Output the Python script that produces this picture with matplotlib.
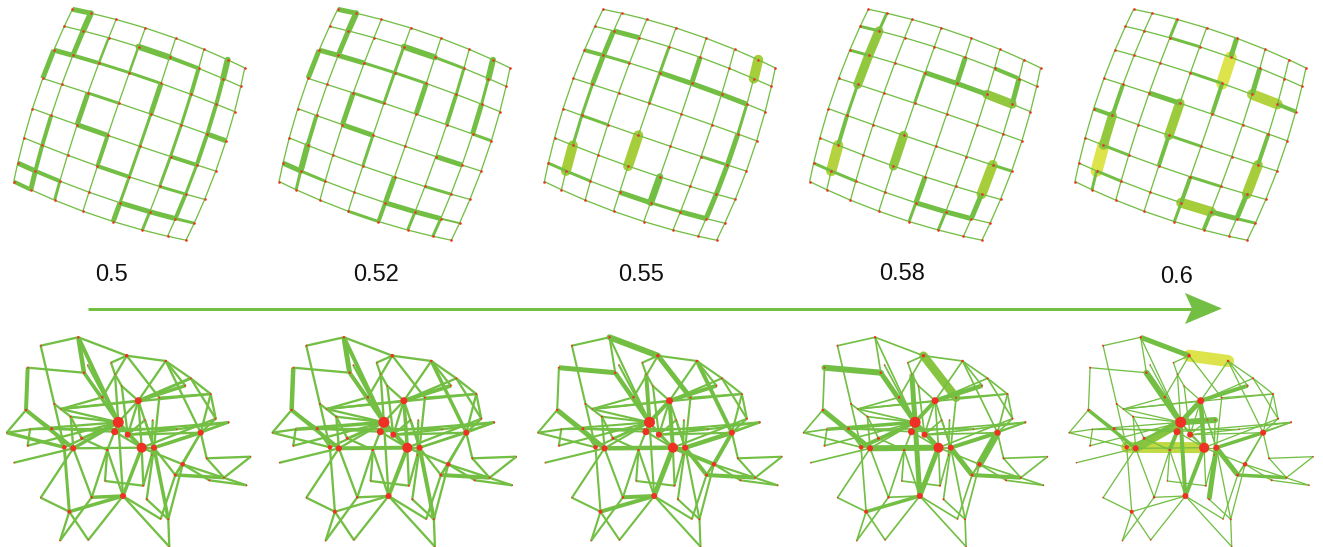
import numpy as np
import matplotlib.pyplot as plt
from matplotlib.patches import Polygon
from matplotlib.colors import to_rgb

# weight threshold used for each column
thresholds = ["0.5", "0.52", "0.55", "0.58", "0.6"]

# ---------------------------------------------------------------------------
# 8 x 8 lattice: edges heavier than the base weight, per threshold
# (orientation, column, row, weight) -- 'h' joins (c,r)-(c+1,r), 'v' joins (c,r)-(c,r+1)
grid_base_w = 1.3
grid_heavy = [
    [("h", 0, 0, 5), ("v", 1, 0, 6), ("v", 1, 1, 5), ("h", 0, 2, 5), ("h", 1, 2, 4), ("v", 0, 2, 5),
     ("h", 3, 1, 6), ("h", 4, 1, 4), ("v", 6, 0, 6), ("h", 2, 2, 3), ("h", 3, 2, 3), ("v", 3, 1, 2.5),
     ("v", 2, 1, 2.5), ("v", 2, 3, 5), ("h", 2, 3, 3), ("v", 4, 2, 5), ("v", 5, 1, 4), ("v", 5, 2, 3),
     ("v", 6, 2, 4), ("v", 6, 1, 4), ("h", 6, 3, 5), ("v", 1, 4, 4), ("v", 1, 5, 4), ("v", 1, 6, 5),
     ("h", 0, 6, 5), ("h", 1, 6, 4), ("h", 0, 7, 4), ("h", 2, 4, 5), ("v", 3, 4, 4), ("h", 3, 5, 4),
     ("v", 4, 4, 3), ("h", 5, 4, 4), ("h", 5, 5, 3), ("v", 6, 5, 4), ("h", 4, 6, 5), ("h", 5, 6, 5),
     ("h", 6, 6, 3), ("v", 4, 6, 5), ("v", 5, 6, 3), ("v", 2, 6, 3), ("v", 6, 4, 3), ("v", 4, 5, 3),
     ("v", 5, 4, 3), ("v", 5, 3, 3), ("v", 4, 3, 3), ("v", 6, 3, 4)],
    [("h", 0, 0, 5), ("v", 1, 0, 6), ("v", 1, 1, 5), ("h", 0, 2, 5), ("h", 1, 2, 5), ("v", 0, 2, 5),
     ("h", 3, 1, 6), ("h", 4, 1, 3), ("v", 6, 0, 6), ("v", 3, 2, 3), ("v", 4, 2, 5), ("v", 5, 2, 4),
     ("v", 6, 2, 5), ("v", 2, 3, 5), ("h", 2, 4, 5), ("v", 1, 4, 4), ("v", 1, 5, 6), ("h", 0, 6, 5),
     ("h", 1, 6, 3), ("v", 1, 6, 3), ("h", 5, 4, 5), ("v", 4, 5, 5), ("h", 4, 6, 5), ("h", 5, 6, 5),
     ("v", 5, 6, 3), ("v", 6, 6, 3), ("h", 3, 7, 3), ("v", 4, 6, 4), ("h", 6, 6, 2), ("h", 2, 2, 3),
     ("h", 3, 2, 3), ("h", 2, 3, 3), ("v", 6, 1, 3), ("v", 5, 1, 3), ("v", 3, 1, 3), ("h", 6, 3, 3),
     ("v", 3, 4, 3), ("h", 5, 5, 3)],
    [("h", 1, 1, 5), ("v", 1, 1, 5), ("v", 1, 2, 5), ("v", 1, 3, 3), ("v", 1, 4, 3), ("v", 1, 5, 10),
     ("h", 0, 2, 4), ("h", 1, 2, 3), ("v", 3, 1, 3), ("h", 3, 2, 5), ("h", 4, 2, 5), ("h", 5, 2, 5),
     ("v", 4, 1, 5), ("v", 6, 0, 10), ("v", 6, 2, 3), ("v", 6, 3, 5), ("v", 6, 4, 5), ("v", 6, 5, 5),
     ("v", 3, 2, 3), ("h", 1, 4, 3), ("v", 3, 4, 10), ("v", 4, 5, 7), ("h", 3, 6, 5), ("h", 4, 6, 3),
     ("h", 5, 6, 5), ("h", 0, 6, 3), ("h", 1, 6, 3), ("h", 5, 4, 3)],
    [("h", 0, 1, 3), ("v", 1, 0, 3), ("v", 1, 1, 9), ("v", 1, 2, 9), ("h", 0, 2, 3), ("v", 1, 3, 3),
     ("v", 1, 4, 4), ("v", 1, 5, 10.5), ("h", 1, 6, 3), ("v", 4, 1, 5), ("h", 3, 2, 5), ("h", 4, 2, 5),
     ("h", 5, 2, 9), ("h", 5, 1, 4), ("v", 6, 1, 5), ("v", 3, 2, 3), ("v", 3, 4, 9), ("v", 6, 4, 10),
     ("v", 6, 5, 5), ("v", 4, 5, 5), ("h", 4, 6, 5), ("h", 5, 6, 5), ("v", 4, 6, 3), ("h", 0, 6, 3),
     ("v", 5, 6, 3), ("h", 6, 4, 3)],
    [("v", 2, 0, 3), ("h", 2, 1, 3), ("v", 4, 0, 5), ("v", 4, 1, 12), ("v", 4, 2, 4), ("h", 3, 2, 3),
     ("v", 5, 1, 5), ("h", 5, 2, 10.5), ("h", 6, 2, 4), ("v", 1, 3, 4), ("v", 1, 4, 9), ("v", 1, 5, 12),
     ("v", 1, 6, 3), ("h", 0, 4, 4), ("h", 2, 3, 5), ("v", 3, 3, 9.5), ("v", 3, 4, 4), ("h", 3, 4, 3),
     ("h", 1, 5, 3), ("h", 1, 6, 3), ("v", 6, 3, 4), ("v", 6, 4, 10), ("v", 6, 5, 5), ("h", 4, 6, 10),
     ("h", 5, 6, 5), ("h", 6, 6, 3), ("v", 4, 5, 4), ("v", 4, 6, 3), ("v", 5, 6, 4), ("h", 4, 5, 3)],
]

# ---------------------------------------------------------------------------
# network layout (same node placement in every column)
net_x = [78.3, 40.7, 126.7, 165.7, 27.7, 84.0, 87.7, 111.0, 115.0, 190.7,
         185.3, 121.7, 138.3, 159.3, 210.7, 102.3, 54.3, 26.0, 61.0, 70.7,
         118.3, 114.7, 127.7, 145.0, 152.7, 176.7, 215.7, 228.7, 200.7, 6.7,
         30.0, 51.7, 81.7, 64.3, 73.3, 27.7, 107.3, 141.7, 154.0, 151.7,
         14.0, 206.7, 250.7, 182.7, 175.3, 224.0, 209.3, 246.7, 105.0, 143.3,
         146.7, 123.0, 91.7, 40.7, 69.3, 160.7, 168.3, 60.0, 88.3, 169.3]
net_y = [17.3, 25.7, 35.7, 41.0, 47.7, 52.7, 45.0, 42.7, 54.3, 58.3,
         65.7, 66.0, 80.7, 77.7, 74.0, 77.3, 84.0, 90.0, 89.0, 96.7,
         102.3, 111.7, 114.7, 100.0, 100.0, 109.3, 98.7, 102.3, 112.7, 112.7,
         109.3, 108.7, 118.3, 127.3, 128.3, 125.7, 130.0, 127.7, 127.7, 135.0,
         142.7, 138.3, 136.7, 144.3, 155.0, 157.7, 160.3, 165.3, 161.0, 165.7,
         179.3, 176.0, 177.3, 177.7, 191.7, 199.0, 199.3, 220.7, 220.0, 226.7]
# node weight (drawn as dot diameter)
net_node_w = [2.5, 2, 3.5, 2.5, 2, 2.5, 1.5, 1.5, 1.5, 2,
              2, 1.5, 7, 2, 2, 2.5, 2, 2.5, 1.5, 2,
              11, 7, 6, 1.5, 1.5, 1.5, 2, 2, 6, 1.5,
              1.5, 3, 3, 4.5, 6, 2, 2.5, 10, 6, 1.5,
              1.5, 2, 1.5, 4.5, 3, 2, 2, 1.5, 1.5, 2,
              2, 6, 2.5, 1.5, 4, 1.5, 2, 1.5, 1.5, 1.5]
net_edges = [
    (0, 1), (0, 2), (0, 5), (0, 20), (1, 16), (4, 5), (4, 17), (5, 15), (5, 20), (6, 20),
    (2, 3), (2, 7), (2, 13), (2, 15), (7, 8), (8, 20), (3, 9), (3, 12), (3, 28), (3, 10),
    (9, 14), (9, 12), (9, 26), (10, 12), (13, 14), (13, 38), (14, 28), (14, 26), (11, 12), (11, 22),
    (12, 20), (12, 22), (12, 37), (12, 18), (12, 38), (15, 18), (16, 33), (17, 29), (17, 34), (17, 31),
    (19, 34), (19, 20), (19, 32), (18, 14), (20, 21), (20, 22), (20, 36), (20, 37), (20, 34), (30, 20),
    (31, 21), (22, 25), (25, 27), (30, 25), (28, 38), (28, 41), (28, 43), (28, 26), (28, 27), (26, 37),
    (27, 38), (28, 44), (41, 42), (42, 45), (43, 44), (43, 47), (43, 37), (44, 45), (44, 55), (44, 38),
    (46, 47), (43, 46), (29, 33), (35, 20), (40, 34), (30, 35), (29, 30), (34, 37), (34, 53), (34, 52),
    (33, 54), (32, 36), (36, 48), (36, 52), (37, 51), (37, 49), (37, 38), (37, 22), (37, 21), (38, 50),
    (38, 56), (51, 52), (51, 55), (51, 58), (51, 20), (53, 54), (54, 57), (54, 51), (57, 52), (58, 54),
    (56, 59), (59, 51), (48, 49), (50, 56), (23, 22), (24, 39), (39, 49), (16, 19), (43, 56), (8, 11),
    (23, 38), (31, 33), (45, 41), (33, 20), (32, 20), (22, 28), (21, 27), (18, 20), (36, 51),
]
# thin-edge weight for each threshold, and edges that carry more
net_base_w = [2.3, 2.3, 2.1, 1.7, 1.3]
net_heavy = [
    [(0, 5, 4.5), (0, 20, 4), (4, 17, 4), (17, 34, 4), (29, 33, 3.5), (5, 20, 3.5), (20, 34, 3.5),
     (20, 37, 3.5), (37, 51, 3.5), (38, 56, 3.5), (44, 45, 3.5), (28, 38, 3.5), (10, 12, 3.5),
     (9, 12, 3), (33, 54, 3), (51, 52, 3.5), (54, 51, 3.5)],
    [(0, 5, 5), (0, 20, 4), (4, 17, 4.5), (17, 34, 4), (5, 20, 4), (34, 37, 4), (20, 37, 4),
     (37, 51, 4), (38, 56, 4), (44, 45, 4), (3, 28, 3.5), (10, 12, 4), (30, 20, 3.5), (12, 37, 3.5)],
    [(0, 2, 6), (4, 5, 5), (2, 13, 5), (5, 20, 4.5), (34, 37, 4.5), (17, 34, 5), (3, 28, 4),
     (28, 38, 4.5), (37, 51, 5), (44, 45, 4), (28, 43, 4), (12, 37, 4), (8, 20, 4), (10, 12, 4),
     (12, 20, 4), (51, 52, 4), (54, 51, 4), (44, 38, 4), (43, 37, 4)],
    [(4, 5, 6), (2, 13, 8.5), (28, 43, 7), (5, 20, 5), (17, 34, 5), (34, 37, 6), (20, 37, 4.5),
     (37, 51, 5), (44, 38, 5), (44, 45, 4), (10, 12, 4.5), (12, 20, 4), (8, 20, 5), (30, 20, 3.5),
     (33, 20, 4), (28, 38, 4), (54, 51, 3.5), (51, 20, 5)],
    [(2, 3, 12), (33, 37, 11), (20, 34, 8.5), (20, 24, 6), (5, 20, 6), (0, 2, 5), (12, 20, 5),
     (12, 37, 4.5), (37, 51, 4), (38, 50, 5), (44, 38, 5), (44, 45, 3.5), (10, 12, 4),
     (28, 38, 3.5), (51, 20, 4), (17, 34, 3.5), (21, 36, 4)],
]

# ---------------------------------------------------------------------------
GREEN = "#72bf44"
LIGHT = "#a6ce3a"
YELLOW = "#dde34b"
RED = "#ee3124"
PT = 0.72  # points per pixel at 100 dpi

W, H = 1323, 547
fig = plt.figure(figsize=(W / 100, H / 100), dpi=100)
ax = fig.add_axes([0, 0, 1, 1])
ax.set_xlim(0, W)
ax.set_ylim(H, 0)
ax.axis("off")

g, l, y = np.array(to_rgb(GREEN)), np.array(to_rgb(LIGHT)), np.array(to_rgb(YELLOW))


def edge_color(w):
    if w <= 7.5:
        return g
    if w <= 10:
        t = (w - 7.5) / 2.5
        return g + (l - g) * t
    t = min((w - 10) / 2, 1)
    return l + (y - l) * t


def lattice(cx, cy, n=8, half=91.0, rot=18.8, k=1.1, bulge=0.066):
    t = np.linspace(-1, 1, n)
    f = np.sin(k * t) / np.sin(k)
    U, V = np.meshgrid(f, f)
    x0 = U * (1 + bulge * (1 - V ** 2))
    y0 = V * (1 + bulge * (1 - U ** 2))
    th = np.radians(rot)
    X = cx + half * (x0 * np.cos(th) - y0 * np.sin(th))
    Y = cy + half * (x0 * np.sin(th) + y0 * np.cos(th))
    return X, Y


def draw_segments(segs):
    # widest first so the thin lines cross over the highlighted ones
    for (xa, ya, xb, yb, w) in sorted(segs, key=lambda s: -s[4]):
        cap = "round" if w >= 6 else "butt"
        ax.plot([xa, xb], [ya, yb], color=edge_color(w), lw=w * PT,
                solid_capstyle=cap, zorder=2)


col_step = 265.3
for k in range(len(thresholds)):
    # lattice
    X, Y = lattice(129.25 + k * col_step, 124.75)
    heavy = {(o, i, j): w for (o, i, j, w) in grid_heavy[k]}
    segs = []
    for j in range(8):
        for i in range(8):
            if i < 7:
                w = heavy.get(("h", i, j), grid_base_w)
                segs.append((X[j, i], Y[j, i], X[j, i + 1], Y[j, i + 1], w))
            if j < 7:
                w = heavy.get(("v", i, j), grid_base_w)
                segs.append((X[j, i], Y[j, i], X[j + 1, i], Y[j + 1, i], w))
    draw_segments(segs)
    ax.scatter(X.ravel(), Y.ravel(), s=(2.6 * PT) ** 2, color=RED, lw=0, zorder=4)

    # network
    ox, oy = k * 265.6, 320.0
    nx = np.array(net_x) + ox
    ny = np.array(net_y) + oy
    weights = {tuple(sorted(e)): net_base_w[k] for e in net_edges}
    for a, b, w in net_heavy[k]:
        weights[tuple(sorted((a, b)))] = w
    segs = [(nx[a], ny[a], nx[b], ny[b], w) for (a, b), w in weights.items()]
    draw_segments(segs)
    ax.scatter(nx, ny, s=(np.array(net_node_w) * PT) ** 2, color=RED, lw=0, zorder=4)

# threshold arrow
ax.plot([88, 1192], [308.5, 308.5], color=GREEN, lw=3 * PT, solid_capstyle="butt", zorder=3)
ax.add_patch(Polygon([[1185, 293], [1222, 308.5], [1185, 324], [1192, 308.5]],
                     closed=True, facecolor=GREEN, edgecolor="none", zorder=3))

label_x = [112, 376, 641, 902, 1177]
label_y = [275, 275, 275, 274.5, 277]
for s, lx, ly in zip(thresholds, label_x, label_y):
    ax.text(lx, ly, s, ha="center", va="center", fontsize=17,
            family="Liberation Sans", color="#111111")

fig.savefig("out.png", dpi=100)
